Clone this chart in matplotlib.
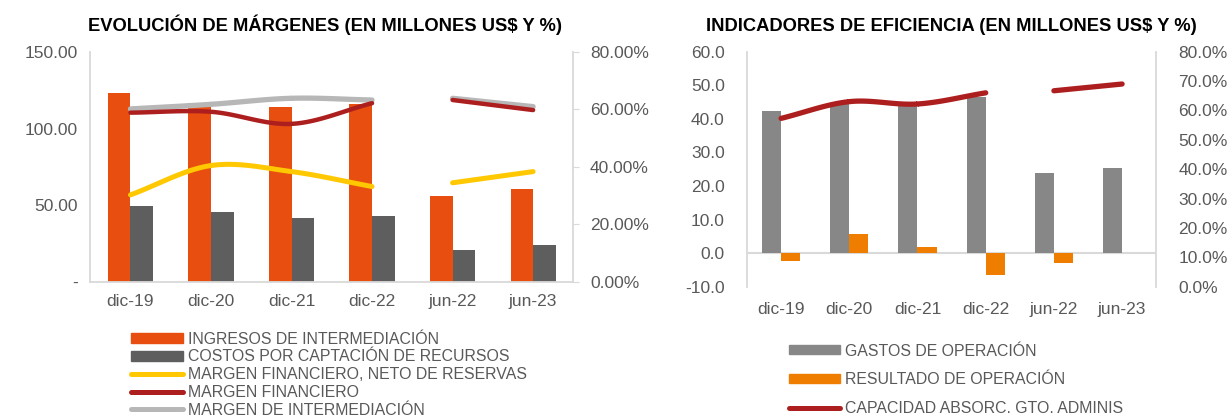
import numpy as np
import matplotlib
matplotlib.use("Agg")
import matplotlib.pyplot as plt
from matplotlib.patches import Patch
from matplotlib.lines import Line2D
from matplotlib.ticker import FuncFormatter, FixedLocator

plt.rcParams['font.family'] = ['Liberation Sans', 'DejaVu Sans']

# Datos
periodos = ["dic-19", "dic-20", "dic-21", "dic-22", "jun-22", "jun-23"]

# Evolución de márgenes (millones US$ y %)
ingresos_intermediacion = [123.5, 116.5, 114.4, 116.0, 56.3, 60.4]
costos_captacion = [49.8, 45.6, 41.5, 42.8, 20.6, 23.9]
margen_fin_neto = [30.3, 40.5, 38.4, 33.2, 34.5, 38.4]
margen_financiero = [58.9, 59.2, 55.0, 62.2, 63.3, 59.8]
margen_intermediacion = [60.2, 61.8, 63.9, 63.3, 63.9, 61.0]

# Indicadores de eficiencia (millones US$ y %)
gastos_operacion = [42.3, 44.6, 44.1, 46.6, 23.9, 25.3]
resultado_operacion = [-2.4, 5.6, 1.8, -6.4, -2.9, -0.1]
capacidad_absorc = [57.3, 63.0, 62.2, 66.0, 66.7, 69.0]

# Colores
NARANJA = "#E84E0F"
GRIS_OSC = "#5E5E5E"
AMARILLO = "#FFC800"
ROJO = "#AD1F1F"
GRIS_CLARO = "#B7B7B7"
GRIS_BAR = "#878787"
NARANJA2 = "#EF7D00"
EJE = "#D9D9D9"
TXT = "#595959"


# Curva suavizada (Catmull-Rom) que pasa por los puntos, como en Excel
def suave(x, y, n=40):
    x = np.asarray(x, float)
    y = np.asarray(y, float)
    if len(x) < 3:
        return x, y
    px = np.concatenate([[2 * x[0] - x[1]], x, [2 * x[-1] - x[-2]]])
    py = np.concatenate([[2 * y[0] - y[1]], y, [2 * y[-1] - y[-2]]])
    t = np.linspace(0, 1, n)
    ox, oy = [], []
    for i in range(1, len(px) - 2):
        for p, o in ((px, ox), (py, oy)):
            p0, p1, p2, p3 = p[i - 1], p[i], p[i + 1], p[i + 2]
            o.append(0.5 * (2 * p1 + (-p0 + p2) * t
                            + (2 * p0 - 5 * p1 + 4 * p2 - p3) * t ** 2
                            + (-p0 + 3 * p1 - 3 * p2 + p3) * t ** 3))
    return np.concatenate(ox), np.concatenate(oy)


def linea_tramos(ax, x, y, **kw):
    # dos tramos: diciembres y junios
    for a, b in ((0, 4), (4, 6)):
        sx, sy = suave(x[a:b], y[a:b])
        ax.plot(sx, sy, solid_capstyle='round', **kw)


fig = plt.figure(figsize=(12.27, 4.2), dpi=100)
x = np.arange(len(periodos))
w = 0.28

# ---------------- Gráfico 1 ----------------
ax1 = fig.add_axes([0.0735, 0.3286, 0.3938, 0.5476])
ax1.bar(x - w / 2, ingresos_intermediacion, w, color=NARANJA)
ax1.bar(x + w / 2, costos_captacion, w, color=GRIS_OSC)
ax1.set_xlim(-0.5, len(periodos) - 0.5)
ax1.set_ylim(0, 150)
ax1.yaxis.set_major_locator(FixedLocator([0, 50, 100, 150]))
ax1.yaxis.set_major_formatter(FuncFormatter(lambda v, p: "-" if v == 0 else f"{v:.2f}"))
ax1.set_xticks(x, periodos)

ax1b = ax1.twinx()
linea_tramos(ax1b, x, margen_intermediacion, color=GRIS_CLARO, lw=3.8)
linea_tramos(ax1b, x, margen_financiero, color=ROJO, lw=3.2)
linea_tramos(ax1b, x, margen_fin_neto, color=AMARILLO, lw=3.6)
ax1b.set_ylim(0, 80)
ax1b.yaxis.set_major_locator(FixedLocator([0, 20, 40, 60, 80]))
ax1b.yaxis.set_major_formatter(FuncFormatter(lambda v, p: f"{v:.2f}%"))

ax1.set_title("EVOLUCIÓN DE MÁRGENES (EN MILLONES US$ Y %)", fontsize=13.2,
              fontweight='bold', pad=15, x=0.485)

for a in (ax1, ax1b):
    for s in a.spines.values():
        s.set_visible(False)
ax1.spines['left'].set_visible(True)
ax1.spines['bottom'].set_visible(True)
ax1b.spines['right'].set_visible(True)
for s in ('left', 'bottom'):
    ax1.spines[s].set_color(EJE)
    ax1.spines[s].set_linewidth(1.3)
ax1b.spines['right'].set_color(EJE)
ax1b.spines['right'].set_linewidth(1.3)
ax1.tick_params(axis='y', length=0, labelsize=12.5, labelcolor=TXT, pad=9)
ax1.tick_params(axis='x', length=0, labelsize=12.5, labelcolor=TXT, pad=9)
ax1b.tick_params(axis='y', length=4, color=EJE, labelsize=12.5, labelcolor=TXT, pad=8)

h1 = [Patch(color=NARANJA), Patch(color=GRIS_OSC),
      Line2D([], [], color=AMARILLO, lw=3.6, solid_capstyle='round'),
      Line2D([], [], color=ROJO, lw=3.6, solid_capstyle='round'),
      Line2D([], [], color=GRIS_CLARO, lw=3.6, solid_capstyle='round')]
l1 = ["INGRESOS DE INTERMEDIACIÓN", "COSTOS POR CAPTACIÓN DE RECURSOS",
      "MARGEN FINANCIERO, NETO DE RESERVAS", "MARGEN FINANCIERO",
      "MARGEN DE INTERMEDIACIÓN"]
leg1 = fig.legend(h1, l1, loc='upper left', bbox_to_anchor=(0.1064, 0.21),
                  frameon=False, fontsize=11.4, borderpad=0, borderaxespad=0,
                  handlelength=3.3, handleheight=0.55, handletextpad=0.35,
                  labelspacing=0.17, labelcolor=TXT)

# ---------------- Gráfico 2 ----------------
ax2 = fig.add_axes([0.6088, 0.3174, 0.3335, 0.5595])
ax2.bar(x - w / 2, gastos_operacion, w, color=GRIS_BAR)
ax2.bar(x + w / 2, resultado_operacion, w, color=NARANJA2)
ax2.axhline(0, color=EJE, lw=1.5, zorder=0.5)
ax2.set_xlim(-0.5, len(periodos) - 0.5)
ax2.set_ylim(-10, 60)
ax2.yaxis.set_major_locator(FixedLocator(np.arange(-10, 61, 10)))
ax2.yaxis.set_major_formatter(FuncFormatter(lambda v, p: f"{v:.1f}"))
ax2.set_xticks(x, periodos)

ax2b = ax2.twinx()
linea_tramos(ax2b, x, capacidad_absorc, color=ROJO, lw=3.8)
ax2b.set_ylim(0, 80)
ax2b.yaxis.set_major_locator(FixedLocator(np.arange(0, 81, 10)))
ax2b.yaxis.set_major_formatter(FuncFormatter(lambda v, p: f"{v:.1f}%"))

ax2.set_title("INDICADORES DE EFICIENCIA (EN MILLONES US$ Y %)", fontsize=13.2,
              fontweight='bold', pad=15, x=0.5)

for a in (ax2, ax2b):
    for s in a.spines.values():
        s.set_visible(False)
ax2.spines['left'].set_visible(True)
ax2.spines['left'].set_color(EJE)
ax2.spines['left'].set_linewidth(1.3)
ax2b.spines['right'].set_visible(True)
ax2b.spines['right'].set_color(EJE)
ax2b.spines['right'].set_linewidth(1.3)
ax2.tick_params(axis='y', length=0, labelsize=12.5, labelcolor=TXT, pad=16)
ax2.tick_params(axis='x', length=0, labelsize=12.5, labelcolor=TXT, pad=11)
ax2b.tick_params(axis='y', length=0, labelsize=12.5, labelcolor=TXT, pad=16)

h2 = [Patch(color=GRIS_BAR), Patch(color=NARANJA2),
      Line2D([], [], color=ROJO, lw=3.6, solid_capstyle='round')]
l2 = ["GASTOS DE OPERACIÓN", "RESULTADO DE OPERACIÓN",
      "CAPACIDAD ABSORC. GTO. ADMINIS"]
leg2 = fig.legend(h2, l2, loc='upper left', bbox_to_anchor=(0.643, 0.182),
                  frameon=False, fontsize=11.4, borderpad=0, borderaxespad=0,
                  handlelength=3.2, handleheight=0.5, handletextpad=0.35,
                  labelspacing=0.86, labelcolor=TXT)

fig.savefig("out.png", dpi=100)
